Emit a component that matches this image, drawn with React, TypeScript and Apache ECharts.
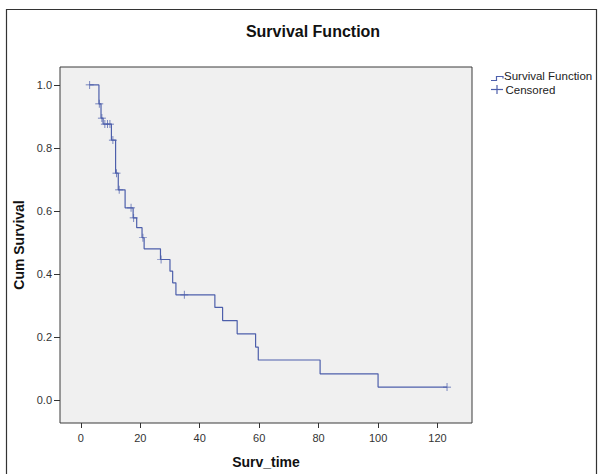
import React, { useEffect, useRef } from "react";
import * as echarts from "echarts";

// Kaplan-Meier step function (time at which the survival changes, value after it)
const SURV_TIMES = [3, 6.1, 6.8, 7.5, 10.3, 11.7, 12.6, 14.9, 17.6, 18.8, 20.6, 21.3, 26.8, 30.0, 30.9, 32.0, 45.1, 47.7, 52.6, 58.8, 59.7, 80.5, 100, 123.2];
const SURV_VALUES = [1.0, 0.94, 0.895, 0.876, 0.825, 0.72, 0.667, 0.61, 0.578, 0.547, 0.515, 0.48, 0.446, 0.409, 0.372, 0.334, 0.294, 0.252, 0.21, 0.168, 0.127, 0.083, 0.041, 0.041];
// Censored observations
const CENSOR_TIMES = [3, 6.2, 7.1, 8.1, 9.0, 9.8, 10.8, 12.0, 12.9, 16.9, 17.8, 20.9, 27.0, 34.8, 123.2];
const CENSOR_VALUES = [1.0, 0.94, 0.895, 0.876, 0.876, 0.876, 0.825, 0.72, 0.667, 0.61, 0.578, 0.515, 0.446, 0.334, 0.041];
// Axis ticks
const X_TICKS = [0, 20, 40, 60, 80, 100, 120];
const Y_TICKS = [0, 0.2, 0.4, 0.6, 0.8, 1.0];

const FONT = "'Liberation Sans', Arial, Helvetica, sans-serif";
const BLUE = "#4d5fab";
const PLUS = "path://M-1,-0.09H1V0.09H-1Z M-0.09,-1H0.09V1H-0.09Z";

export default function App() {
  const ref = useRef<HTMLDivElement>(null);
  useEffect(() => {
    if (!ref.current) return;
    const chart = echarts.init(ref.current, null, { renderer: "svg" });
    const survData = SURV_TIMES.map((t, i) => [t, SURV_VALUES[i]]);
    const censData = CENSOR_TIMES.map((t, i) => [t, CENSOR_VALUES[i]]);
    chart.setOption({
      animation: false,
      backgroundColor: "#ffffff",
      grid: {
        left: 60,
        right: 131,
        top: 67,
        bottom: 51,
        show: true,
        backgroundColor: "#f0f0f0",
        borderColor: "#3a3a3a",
        borderWidth: 1,
      },
      xAxis: {
        type: "value",
        min: -7,
        max: 131.6,
        name: "Surv_time",
        nameLocation: "middle",
        nameGap: 32,
        nameTextStyle: { fontFamily: FONT, fontSize: 14, fontWeight: "bold", color: "#111" },
        axisLine: { show: false, onZero: false },
        axisTick: { show: true, length: 5, customValues: X_TICKS, lineStyle: { color: "#333" } },
        axisLabel: { customValues: X_TICKS, margin: 9, fontFamily: FONT, fontSize: 11, color: "#333" },
        splitLine: { show: false },
      },
      yAxis: {
        type: "value",
        min: -0.073,
        max: 1.057,
        name: "Cum Survival",
        nameLocation: "middle",
        nameGap: 30,
        nameTextStyle: { fontFamily: FONT, fontSize: 14, fontWeight: "bold", color: "#111" },
        axisLine: { show: false, onZero: false },
        axisTick: { show: true, length: 6, customValues: Y_TICKS, lineStyle: { color: "#333" } },
        axisLabel: {
          customValues: Y_TICKS,
          margin: 8,
          fontFamily: FONT,
          fontSize: 11,
          color: "#333",
          formatter: (v: number) => v.toFixed(1),
        },
        splitLine: { show: false },
      },
      series: [
        {
          name: "Survival Function",
          type: "line",
          step: "end",
          data: survData,
          showSymbol: false,
          symbol: "none",
          lineStyle: { color: BLUE, width: 1.2 },
          z: 2,
        },
        {
          name: "Censored",
          type: "scatter",
          data: censData,
          symbol: PLUS,
          symbolSize: 8,
          itemStyle: { color: BLUE, opacity: 1 },
          z: 3,
        },
      ],
      graphic: [
        {
          type: "rect",
          shape: { x: 6.5, y: 9.5, width: 590, height: 480 },
          style: { fill: "none", stroke: "#333", lineWidth: 1.2 },
          silent: true,
        },
        {
          type: "text",
          x: 313,
          y: 31,
          style: {
            text: "Survival Function",
            align: "center",
            verticalAlign: "middle",
            fontFamily: FONT,
            fontSize: 16,
            fontWeight: "bold",
            fill: "#111",
          },
        },
        {
          type: "polyline",
          shape: { points: [[491, 80.5], [496.5, 80.5], [496.5, 76.5], [503, 76.5], [503, 78.5]] },
          style: { stroke: BLUE, lineWidth: 1.2, fill: "none" },
        },
        {
          type: "line",
          shape: { x1: 491, y1: 89.5, x2: 503, y2: 89.5 },
          style: { stroke: BLUE, lineWidth: 1.2 },
        },
        {
          type: "line",
          shape: { x1: 497, y1: 85, x2: 497, y2: 94 },
          style: { stroke: BLUE, lineWidth: 1.2 },
        },
        {
          type: "text",
          x: 504,
          y: 76,
          style: {
            text: "Survival Function",
            align: "left",
            verticalAlign: "middle",
            fontFamily: FONT,
            fontSize: 11.5,
            fill: "#222",
          },
        },
        {
          type: "text",
          x: 505.5,
          y: 90,
          style: {
            text: "Censored",
            align: "left",
            verticalAlign: "middle",
            fontFamily: FONT,
            fontSize: 11.5,
            fill: "#222",
          },
        },
      ],
    });
    return () => chart.dispose();
  }, []);
  return (
    <div
      ref={ref}
      style={{ position: "fixed", left: 0, top: 0, width: 603, height: 474 }}
    />
  );
}
